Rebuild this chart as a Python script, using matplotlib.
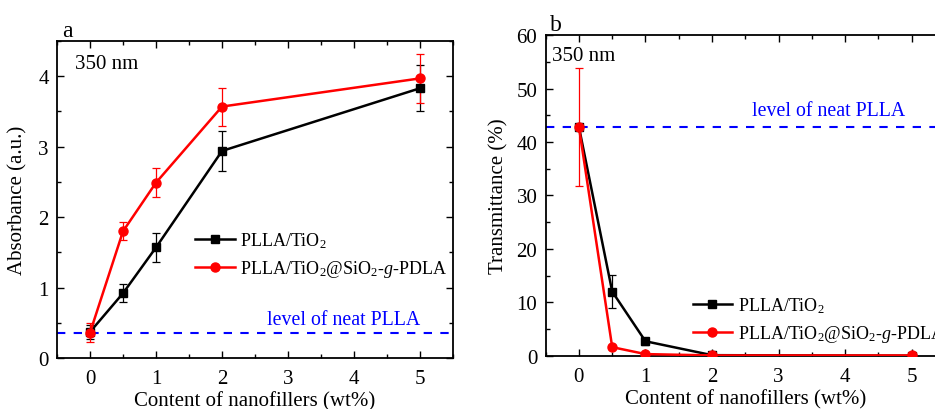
import numpy as np
import matplotlib
matplotlib.use('Agg')
import matplotlib.pyplot as plt
from matplotlib.lines import Line2D
from matplotlib.ticker import MultipleLocator

plt.rcParams['font.family'] = ['Liberation Serif', 'DejaVu Serif']
plt.rcParams['mathtext.fontset'] = 'custom'
plt.rcParams['mathtext.rm'] = 'Liberation Serif'
plt.rcParams['mathtext.it'] = 'Liberation Serif:italic'

# data
content = [0, 0.5, 1, 2, 5]

abs_tio2 = [0.37, 0.92, 1.57, 2.94, 3.83]
abs_tio2_err = [0.10, 0.13, 0.21, 0.28, 0.33]
abs_graft = [0.36, 1.80, 2.49, 3.57, 3.97]
abs_graft_err = [0.13, 0.13, 0.21, 0.27, 0.35]
abs_neat = 0.36

tr_tio2 = [42.8, 12.0, 2.7, 0.1, 0.0]
tr_tio2_err = [0.0, 3.1, 0.7, 0.0, 0.0]
tr_graft = [42.8, 1.6, 0.3, 0.05, 0.05]
tr_graft_err = [11.1, 0.0, 0.0, 0.0, 0.0]
tr_neat = 42.8

label_tio2 = 'PLLA/TiO$_2$'
label_graft = 'PLLA/TiO$_2$@SiO$_2$-$g$-PDLA'

FS = 15

fig = plt.figure(figsize=(9.35, 4.1), dpi=100)
ax1 = fig.add_axes([0.061, 0.1244, 0.4235, 0.773])
ax2 = fig.add_axes([0.5836, 0.13, 0.427, 0.782])


def style_axis(ax):
    ax.tick_params(direction='in', which='both', top=True, right=True,
                   labelsize=FS, width=1)
    ax.tick_params(axis='x', pad=8)
    ax.tick_params(axis='y', pad=6)
    ax.tick_params(which='major', length=5)
    ax.tick_params(which='minor', length=3)
    for sp in ax.spines.values():
        sp.set_linewidth(1.3)
    ax.set_xlim(-0.5, 5.5)
    ax.xaxis.set_major_locator(MultipleLocator(1))
    ax.xaxis.set_minor_locator(MultipleLocator(0.5))
    ax.set_xlabel('Content of nanofillers (wt%)', fontsize=FS, labelpad=2)


def draw_series(ax, y, yerr, color, marker, ms):
    ax.errorbar(content, y, yerr=yerr, color=color, ecolor=color,
                elinewidth=0.9, capsize=3, capthick=0.9, lw=1.8,
                marker=marker, ms=ms, zorder=3)


def add_legend(ax, anchor):
    handles = [
        Line2D([], [], color='black', lw=1.8, marker='s', ms=6),
        Line2D([], [], color='red', lw=1.8, marker='o', ms=6.5),
    ]
    ax.legend(handles, [label_tio2, label_graft], loc='upper left',
              bbox_to_anchor=anchor, frameon=False, fontsize=13,
              handlelength=2.2, handletextpad=0.3, labelspacing=0.45,
              borderaxespad=0)


# panel a
style_axis(ax1)
ax1.set_ylim(0, 4.5)
ax1.yaxis.set_major_locator(MultipleLocator(1))
ax1.yaxis.set_minor_locator(MultipleLocator(0.5))
ax1.axhline(abs_neat, color='blue', ls=(0, (4, 4)), lw=1.5, zorder=2)
draw_series(ax1, abs_tio2, abs_tio2_err, 'black', 's', 6)
draw_series(ax1, abs_graft, abs_graft_err, 'red', 'o', 6.5)
ax1.set_ylabel('Absorbance (a.u.)', fontsize=FS, labelpad=8)
ax1.text(0.045, 0.93, '350 nm', transform=ax1.transAxes, fontsize=FS,
         va='center', ha='left')
ax1.text(5.0, 0.55, 'level of neat PLLA', color='blue', fontsize=14.3,
         ha='right', va='center')
ax1.text(0.012, 1.0, 'a', transform=ax1.transAxes, fontsize=17,
         va='bottom', ha='left')
add_legend(ax1, (0.33, 0.425))

# panel b
style_axis(ax2)
ax2.set_ylim(0, 60)
ax2.yaxis.set_major_locator(MultipleLocator(10))
ax2.yaxis.set_minor_locator(MultipleLocator(5))
ax2.axhline(tr_neat, color='blue', ls=(0, (4, 4)), lw=1.5, zorder=2)
draw_series(ax2, tr_tio2, tr_tio2_err, 'black', 's', 6)
draw_series(ax2, tr_graft, tr_graft_err, 'red', 'o', 6.5)
ax2.set_ylabel('Transmittance (%)', fontsize=FS, labelpad=6)
ax2.text(0.015, 0.935, '350 nm', transform=ax2.transAxes, fontsize=FS,
         va='center', ha='left')
ax2.text(3.75, 45.8, 'level of neat PLLA', color='blue', fontsize=14.3,
         ha='center', va='center')
ax2.text(0.01, 1.0, 'b', transform=ax2.transAxes, fontsize=17,
         va='bottom', ha='left')
add_legend(ax2, (0.35, 0.21))

fig.savefig('out.png', dpi=100)
